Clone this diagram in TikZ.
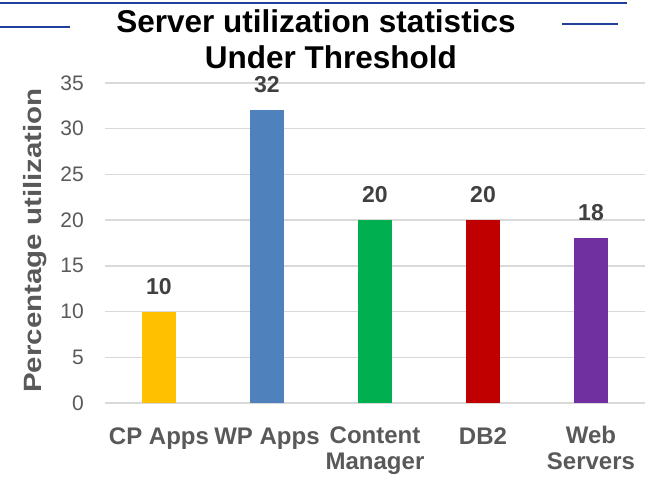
\documentclass[tikz,border=0pt]{standalone}
\usepackage{fontspec}
\setmainfont{Liberation Sans}
\usetikzlibrary{positioning}
\definecolor{RuleBlue}{HTML}{21409A}
\definecolor{GridGray}{HTML}{D9D9D9}
\definecolor{AxisInk}{HTML}{595959}
\definecolor{ValInk}{HTML}{404040}
\definecolor{BarGold}{HTML}{FFC000}
\definecolor{BarBlue}{HTML}{4F81BD}
\definecolor{BarGreen}{HTML}{00B050}
\definecolor{BarRed}{HTML}{C00000}
\definecolor{BarPurple}{HTML}{7030A0}

\begin{document}
\begin{tikzpicture}[x=1pt, y=1pt,
  rule/.style={draw=RuleBlue, line width=2.5pt},
  grid/.style={draw=GridGray, line width=1.4pt},
  ttl/.style={font=\fontsize{31.5}{36}\selectfont\bfseries, anchor=base, inner sep=0pt},
  ticklabel/.style={font=\fontsize{21}{24}\selectfont, color=AxisInk, anchor=east, inner sep=0pt},
  vallabel/.style={font=\fontsize{23}{26}\selectfont\bfseries, color=ValInk, anchor=base, inner sep=0pt},
  catlabel/.style={font=\fontsize{24}{26}\selectfont\bfseries, color=AxisInk, align=center, anchor=base, inner sep=0pt}
]
  \useasboundingbox (0,0) rectangle (654,482);

  % Blue rules at the top
  \draw[rule] (0,479) -- (627,479);
  \draw[rule] (0,455) -- (70,455);
  \draw[rule] (562,458) -- (618,458);

  % Title
  \node[ttl] (title1) at (316,449) {Server utilization statistics};
  \node[ttl] (title2) at (331,413) {Under Threshold};

  % Grid and tick labels
  \foreach \k in {0,5,...,35} {
    \draw[grid] (105,79+\k*9.143) -- (645,79+\k*9.143);
    \node[ticklabel] (t\k) at (84,79+\k*9.143) {\k};
  }

  % Axis title
  \node[rotate=90, font=\fontsize{25}{28}\selectfont\bfseries, color=AxisInk, inner sep=0pt]
    (ytitle) at (35,241.5) {\scalebox{1.18}[1]{Percentage utilization}};

  % Bars and values
  \foreach \name/\cx/\val/\col in {cp/159/10/BarGold, wp/267/32/BarBlue,
      cm/375/20/BarGreen, db/483/20/BarRed, ws/591/18/BarPurple} {
    \fill[\col] (\cx-17,79) rectangle (\cx+17,79+\val*9.143);
    \node[vallabel] (v\name) at (\cx,79+\val*9.143+17.5) {\val};
  }

  % Categories (two-line ones sit on their second baseline)
  \node[catlabel] (ccp) at (159,37.3) {CP Apps};
  \node[catlabel] (cwp) at (267,37.3) {WP Apps};
  \node[catlabel] (ccm) at (375,12) {Content\\Manager};
  \node[catlabel] (cdb) at (483,37.3) {DB2};
  \node[catlabel] (cws) at (591,12) {Web\\Servers};
\end{tikzpicture}
\end{document}
